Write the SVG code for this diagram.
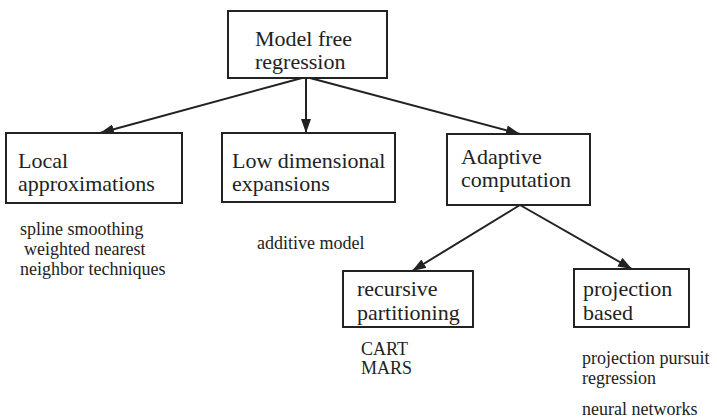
<svg xmlns="http://www.w3.org/2000/svg" width="717" height="420" viewBox="0 0 717 420">
<style>
.box{fill:#fff;stroke:#222;stroke-width:2}
text{fill:#222}
.lbl{font-size:22px}
.sm{font-size:18px}
.edge{stroke:#222;stroke-width:2;fill:none;marker-end:url(#arr)}
</style>
<defs>
<marker id="arr" markerUnits="userSpaceOnUse" markerWidth="16" markerHeight="12" refX="14" refY="5" orient="auto">
<path d="M0,0 L14,5 L0,10 Z" fill="#222"/>
</marker>
</defs>
<rect width="717" height="420" fill="#fff"/>
<g id="connectors">
<line class="edge" x1="302" y1="78" x2="100" y2="133"/>
<line class="edge" x1="306" y1="78" x2="306" y2="133"/>
<line class="edge" x1="310" y1="78" x2="520" y2="134"/>
<line class="edge" x1="520" y1="205" x2="412" y2="271"/>
<line class="edge" x1="520" y1="205" x2="632" y2="269"/>
</g>
<g font-family="Liberation Serif, Times New Roman, serif">
<g id="model-free">
<rect class="box" x="228" y="11" width="159" height="67"/>
<text class="lbl" x="255" y="46">Model free</text>
<text class="lbl" x="255" y="69">regression</text>
</g>
<g id="local">
<rect class="box" x="6" y="133" width="176" height="70"/>
<text class="lbl" x="18" y="168">Local</text>
<text class="lbl" x="18" y="191">approximations</text>
</g>
<g id="low-dim">
<rect class="box" x="222" y="133" width="173" height="69"/>
<text class="lbl" x="232" y="168">Low dimensional</text>
<text class="lbl" x="232" y="191">expansions</text>
</g>
<g id="adaptive">
<rect class="box" x="447" y="134" width="143" height="71"/>
<text class="lbl" x="461" y="164">Adaptive</text>
<text class="lbl" x="461" y="187">computation</text>
</g>
<g id="recursive">
<rect class="box" x="343" y="271" width="130" height="56"/>
<text class="lbl" x="357" y="296">recursive</text>
<text class="lbl" x="357" y="320">partitioning</text>
</g>
<g id="projection">
<rect class="box" x="574" y="269" width="115" height="58"/>
<text class="lbl" x="583" y="296">projection</text>
<text class="lbl" x="583" y="320">based</text>
</g>
<g id="notes">
<text class="sm" x="20" y="235">spline smoothing</text>
<text class="sm" x="24" y="255">weighted nearest</text>
<text class="sm" x="20" y="275">neighbor techniques</text>
<text class="sm" x="257" y="249">additive model</text>
<text class="sm" x="361" y="355">CART</text>
<text class="sm" x="361" y="374">MARS</text>
<text class="sm" x="582" y="364">projection pursuit</text>
<text class="sm" x="582" y="384">regression</text>
<text class="sm" x="582" y="415">neural networks</text>
</g>
</g>
</svg>
